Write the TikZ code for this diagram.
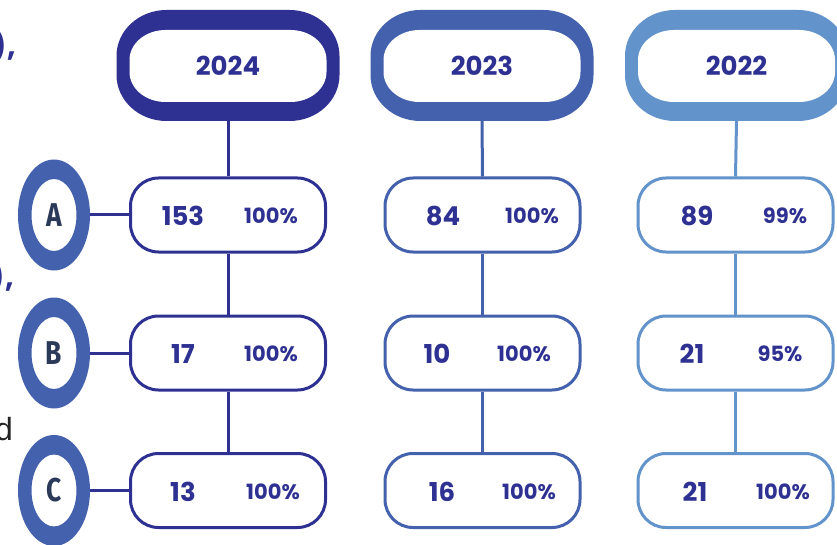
\documentclass[tikz,border=0pt]{standalone}
\usepackage{fontspec}
\usetikzlibrary{shapes.geometric}
\setmainfont{Liberation Sans}
\newfontfamily\numfont{Poppins}
\newfontfamily\letterfont[FakeStretch=0.8]{Fira Sans}

\definecolor{indigo}{RGB}{46,49,146}
\definecolor{midblue}{RGB}{67,97,172}
\definecolor{lightblue}{RGB}{99,147,203}
\definecolor{slate}{RGB}{44,58,90}
\definecolor{inkgrey}{RGB}{35,35,35}

% filled box with elliptical corners: colour, x1, y1, x2, y2, rx, ry
\newcommand\pillfill[7]{%
  \pgfmathsetmacro\kx{0.4477*#6}%
  \pgfmathsetmacro\ky{0.4477*#7}%
  \fill[#1] (#2+#6,#3) -- (#4-#6,#3)
    .. controls (#4-\kx,#3) and (#4,#3+\ky) .. (#4,#3+#7) -- (#4,#5-#7)
    .. controls (#4,#5-\ky) and (#4-\kx,#5) .. (#4-#6,#5) -- (#2+#6,#5)
    .. controls (#2+\kx,#5) and (#2,#5-\ky) .. (#2,#5-#7) -- (#2,#3+#7)
    .. controls (#2,#3+\ky) and (#2+\kx,#3) .. cycle;%
}
% thick year frame centred at x = #2
\newcommand\yearframe[2]{%
  \pillfill{#1}{#2-111.5}{10}{#2+111.5}{121}{50}{46}%
  \pillfill{white}{#2-98.5}{30}{#2+98.5}{102}{36}{30}%
}

\tikzset{
  yearbox/.style={minimum width=223pt, minimum height=111pt, inner sep=0pt,
    font=\numfont\bfseries\fontsize{26}{30}\selectfont, text=indigo},
  rowbox/.style={draw=#1, line width=3pt, rounded corners=28pt,
    minimum width=195pt, minimum height=74pt, inner sep=0pt, fill=white},
  numtext/.style={font=\numfont\bfseries\fontsize{26}{30}\selectfont, text=indigo, inner sep=0pt},
  pcttext/.style={font=\numfont\bfseries\fontsize{21}{25}\selectfont, text=indigo, inner sep=0pt},
  link/.style={draw=#1, line width=3pt},
  letterring/.style={ellipse, minimum width=72pt, minimum height=111pt, inner sep=0pt,
    font=\letterfont\bfseries\fontsize{33}{36}\selectfont, text=slate},
}

\begin{document}
\begin{tikzpicture}[x=1pt, y=-1pt]
\clip (0,0) rectangle (837,545);
\fill[white] (0,0) rectangle (837,545);

% cut-off text on the left margin
\node[anchor=base east, inner sep=0pt, text=indigo,
  font=\numfont\bfseries\fontsize{30}{32}\selectfont] (frag1) at (16,57) {),};
\node[anchor=base east, inner sep=0pt, text=indigo,
  font=\numfont\bfseries\fontsize{30}{32}\selectfont] (frag2) at (14,287) {),};
\node[anchor=base east, inner sep=0pt, text=inkgrey,
  font=\fontsize{32}{34}\selectfont] (frag3) at (13,440) {d};

% year headers
\node[yearbox] (h24) at (228,65.5) {};
\node[yearbox] (h23) at (482,65.5) {};
\node[yearbox] (h22) at (736.5,65.5) {};

% row boxes
\node[rowbox=indigo] (a24) at (228,215) {};
\node[rowbox=indigo] (b24) at (228,353) {};
\node[rowbox=indigo] (c24) at (228,490.5) {};
\node[rowbox=midblue] (a23) at (482.5,215) {};
\node[rowbox=midblue] (b23) at (482.5,353) {};
\node[rowbox=midblue] (c23) at (482.5,490.5) {};
\node[rowbox=lightblue] (a22) at (735.5,215) {};
\node[rowbox=lightblue] (b22) at (735.5,353) {};
\node[rowbox=lightblue] (c22) at (735.5,490.5) {};

% vertical links
\draw[link=indigo] (h24.south) -- (a24.north);
\draw[link=indigo] (a24.south) -- (b24.north);
\draw[link=indigo] (b24.south) -- (c24.north);
\draw[link=midblue] (h23.south) -- (a23.north);
\draw[link=midblue] (a23.south) -- (b23.north);
\draw[link=midblue] (b23.south) -- (c23.north);
\draw[link=lightblue] (h22.south) -- (a22.north);
\draw[link=lightblue] (a22.south) -- (b22.north);
\draw[link=lightblue] (b22.south) -- (c22.north);

% thick year frames and labels
\yearframe{indigo}{228}
\yearframe{midblue}{482}
\yearframe{lightblue}{736.5}
\node[yearbox] at (h24) {2024};
\node[yearbox] at (h23) {2023};
\node[yearbox] at (h22) {2022};

% row letters
\foreach \yy in {215,353,490.5}{
  \fill[midblue, even odd rule] (54,\yy) ellipse [x radius=36pt, y radius=55.5pt]
    (54,\yy) ellipse [x radius=22.5pt, y radius=36pt];
}
\node[letterring] (la) at (54,215) {A};
\node[letterring] (lb) at (54,353) {B};
\node[letterring] (lc) at (54,490.5) {C};
\draw[link=indigo] (la.east) -- (a24.west);
\draw[link=indigo] (lb.east) -- (b24.west);
\draw[link=indigo] (lc.east) -- (c24.west);

% counts and rates
\node[numtext] (a24n) at (183,216) {153};
\node[pcttext] (a24p) at (271,216) {100\%};
\node[numtext] (b24n) at (183,354) {17};
\node[pcttext] (b24p) at (271,354) {100\%};
\node[numtext] (c24n) at (183,491.5) {13};
\node[pcttext] (c24p) at (273,491.5) {100\%};

\node[numtext] (a23n) at (443,216) {84};
\node[pcttext] (a23p) at (532,216) {100\%};
\node[numtext] (b23n) at (437,354) {10};
\node[pcttext] (b23p) at (524,354) {100\%};
\node[numtext] (c23n) at (442,491.5) {16};
\node[pcttext] (c23p) at (529,491.5) {100\%};

\node[numtext] (a22n) at (697,216) {89};
\node[pcttext] (a22p) at (785,216) {99\%};
\node[numtext] (b22n) at (692,354) {21};
\node[pcttext] (b22p) at (780,354) {95\%};
\node[numtext] (c22n) at (695,491.5) {21};
\node[pcttext] (c22p) at (783,491.5) {100\%};
\end{tikzpicture}
\end{document}
